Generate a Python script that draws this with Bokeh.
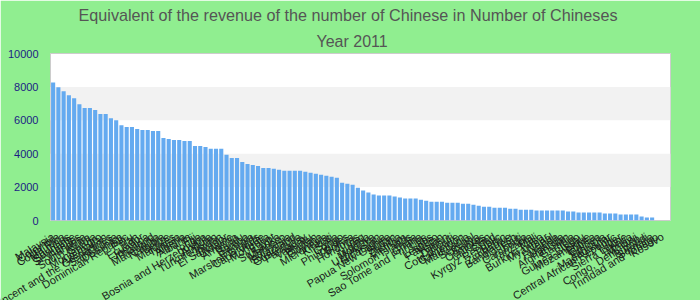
from bokeh.plotting import figure
from bokeh.models import Range1d, ColumnDataSource, Title, FixedTicker
from bokeh.embed import file_html
from bokeh.resources import INLINE

countries = [
    "Malaysia", "Colombia", "Costa Rica", "Mauritius", "Suriname", "Seychelles",
    "Panama", "South Africa", "Serbia", "Montenegro", "Azerbaijan",
    "Saint Vincent and the Grenadines", "Saint Lucia", "Dominica", "Dominican Republic",
    "Peru", "Iran", "Ecuador", "Jamaica", "Thailand", "Macedonia", "Namibia",
    "Belize", "Maldives", "Tunisia", "Algeria", "Albania", "Fiji", "Tonga",
    "Bosnia and Herzegovina", "Angola", "Turkmenistan", "Jordan", "El Salvador",
    "Ukraine", "Armenia", "Tuvalu", "Samoa", "Georgia", "Marshall Islands",
    "Cape Verde", "Mongolia", "Egypt", "Sri Lanka", "Morocco", "Indonesia",
    "Swaziland", "Guatemala", "Paraguay", "Vanuatu", "Bhutan", "Guyana",
    "Micronesia", "Kiribati", "Syria", "Congo", "Philippines", "Bolivia",
    "Honduras", "Iraq", "Nigeria", "Moldova", "Uzbekistan", "Nicaragua",
    "Papua New Guinea", "Sudan", "Zambia", "Vietnam", "Solomon Islands", "India",
    "Ghana", "Sao Tome and Principe", "Laos", "Lesotho", "Pakistan", "Yemen",
    "Djibouti", "Cote d'Ivoire", "Cameroon", "Mauritania", "Senegal", "Kenya",
    "Comoros", "Tajikistan", "Chad", "Kyrgyz Republic", "Benin", "Zimbabwe",
    "Bangladesh", "Haiti", "Cambodia", "Tanzania", "Mali", "Burkina Faso",
    "Myanmar", "Nepal", "Rwanda", "Uganda", "Afghanistan", "Gambia", "Togo",
    "Guinea-Bissau", "Mozambique", "Eritrea", "Guinea", "Ethiopia", "Madagascar",
    "Central African Republic", "Niger", "Sierra Leone", "Liberia", "Malawi",
    "Congo, Dem. Rep.", "Burundi", "Somalia", "Trinidad and Tobago", "Kosovo",
]

revenue = [
    8270, 7980, 7740, 7500, 7320, 6960, 6730, 6730, 6610, 6370, 6370, 6130,
    6010, 5710, 5600, 5600, 5480, 5420, 5420, 5360, 5360, 4940, 4880, 4820,
    4820, 4760, 4760, 4460, 4460, 4400, 4290, 4290, 4290, 3930, 3750, 3750,
    3510, 3390, 3330, 3270, 3150, 3150, 3100, 3040, 2980, 2980, 2980, 2980,
    2920, 2860, 2800, 2740, 2680, 2620, 2560, 2260, 2200, 2140, 1960, 1790,
    1670, 1550, 1490, 1490, 1490, 1430, 1370, 1310, 1310, 1310, 1250, 1190,
    1130, 1130, 1130, 1070, 1070, 1070, 1010, 1010, 950, 890, 830, 830,
    770, 770, 770, 710, 710, 650, 650, 650, 600, 600, 600, 600,
    600, 600, 540, 540, 480, 480, 480, 480, 480, 420, 420, 420,
    360, 360, 360, 360, 240, 180, 180, 0, 0,
]

y_ticks = [0, 2000, 4000, 6000, 8000, 10000]

title_text = "Equivalent of the revenue of the number of Chinese  in Number of Chineses"
subtitle_text = "Year 2011"

n = len(countries)
src = ColumnDataSource(dict(x=list(range(n)), v=revenue))

p = figure(width=700, height=333, output_backend="svg", toolbar_location=None,
           x_range=Range1d(-0.5, n + 0.5), y_range=Range1d(0, 10000),
           min_border_left=50, min_border_right=30, min_border_bottom=10,
           min_border_top=0)

p.background_fill_color = "white"
p.border_fill_color = "#90ee90"
p.outline_line_color = "#cccccc"

p.vbar(x="x", top="v", width=0.78, source=src, fill_color="#64aaf0", line_color=None)

xa = p.xaxis[0]
xa.ticker = FixedTicker(ticks=list(range(n)))
xa.major_label_overrides = {i: name for i, name in enumerate(countries)}
xa.major_label_orientation = 0.54
xa.axis_line_color = None
xa.major_tick_line_color = None
xa.minor_tick_line_color = None
xa.major_tick_out = 0
xa.major_tick_in = 0
xa.major_label_standoff = 15
xa.major_label_text_font_size = "11px"
xa.major_label_text_font = "Liberation Sans"
xa.major_label_text_color = "#1a1a1a"

p.xgrid.visible = False
p.ygrid.ticker = FixedTicker(ticks=y_ticks)
p.ygrid.grid_line_color = None
p.ygrid.band_fill_color = "#f2f2f2"
p.ygrid.band_fill_alpha = 1.0

ya = p.yaxis[0]
ya.ticker = FixedTicker(ticks=y_ticks)
ya.axis_line_color = None
ya.major_tick_line_color = None
ya.minor_tick_line_color = None
ya.major_tick_out = 0
ya.major_tick_in = 0
ya.major_label_text_font_size = "11px"
ya.major_label_text_font = "Liberation Sans"
ya.major_label_text_color = "#1c1c84"
ya.major_label_standoff = 12

p.add_layout(Title(text=subtitle_text, align="left", offset=266, text_font_size="16px",
                   text_color="#555555", text_font_style="normal",
                   text_font="Liberation Sans", standoff=8), "above")
p.add_layout(Title(text=title_text, align="left", offset=28, text_font_size="16.2px",
                   text_color="#555555", text_font_style="normal",
                   text_font="Liberation Sans", standoff=6), "above")
p.title.visible = False

open("out.html", "w").write(file_html(p, INLINE))
